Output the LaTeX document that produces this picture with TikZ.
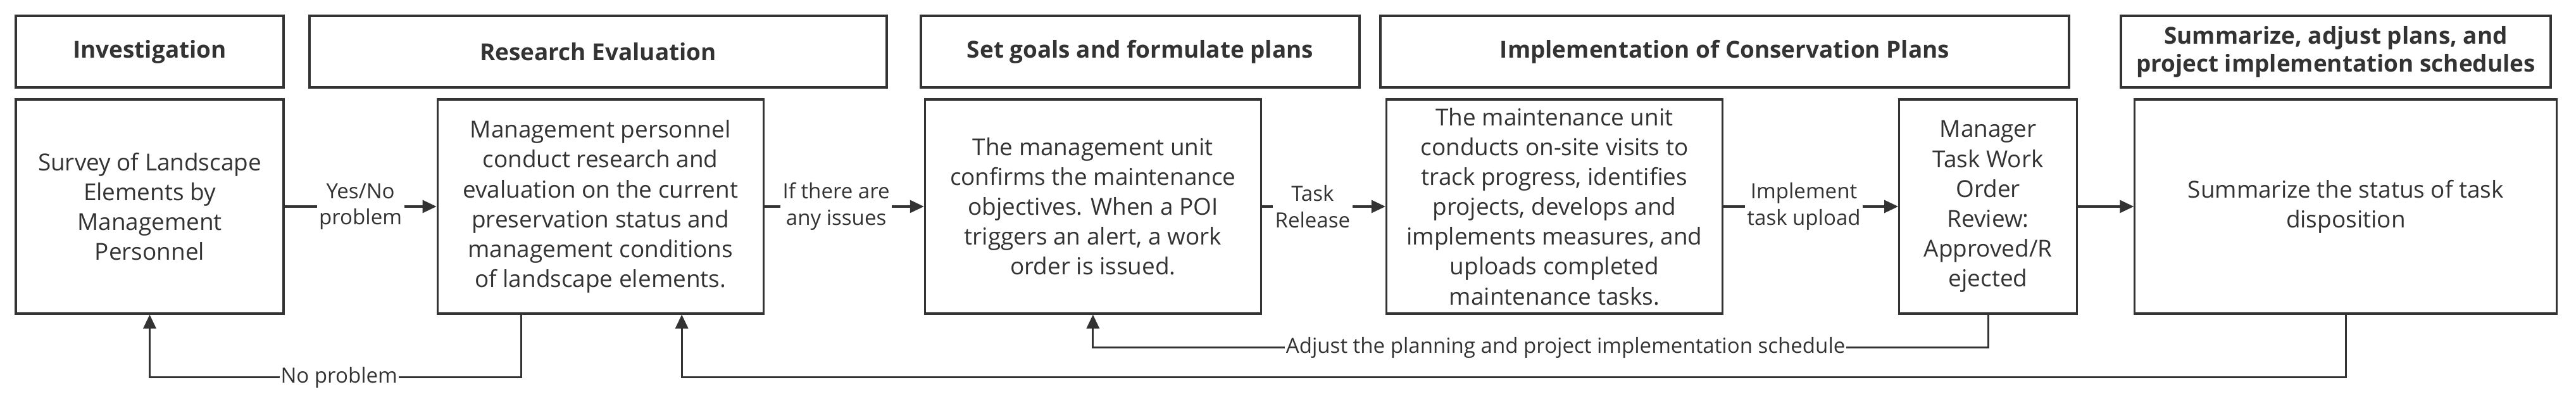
\documentclass[tikz,border=0pt]{standalone}
\usepackage{fontspec}
\setmainfont{Open Sans}
\usepackage{tikz}
\usetikzlibrary{positioning, calc, arrows.meta}
\definecolor{ink}{HTML}{333333}
\tikzset{>={Triangle[length=2.2mm,width=2mm]}}

\begin{document}
\begin{tikzpicture}
    [box/.style={draw=ink, line width=0.9pt, align=center, text=ink,
        minimum height=3.38cm, font=\fontsize{10.5}{13.4}\selectfont},
      head/.style={draw=ink, line width=0.9pt, align=center, text=ink,
        minimum height=1.13cm, font=\fontsize{10.5}{12.5}\selectfont\bfseries},
      lbl/.style={fill=white, align=center, text=ink, inner sep=1pt,
        font=\fontsize{9.4}{11.8}\selectfont},
      link/.style={draw=ink, line width=0.9pt}]

    \useasboundingbox (0,0) rectangle (40.70,-6.33);

    % stage headers
    \node[head, minimum width=4.23cm] (H1) at (2.365,-0.815) {Investigation};
    \node[head, minimum width=9.12cm] (H2) at (9.45,-0.815) {Research Evaluation};
    \node[head, minimum width=6.93cm] (H3) at (18.015,-0.815) {Set goals and formulate plans};
    \node[head, minimum width=10.88cm] (H4) at (27.25,-0.815) {Implementation of Conservation Plans};
    \node[head, minimum width=6.79cm] (H5) at (36.905,-0.815)
    {Summarize, adjust plans, and \\ project implementation schedules};

    % process boxes
    \node[box, minimum width=4.23cm] (S) at (2.365,-3.26)
    {Survey of Landscape \\ Elements by \\ Management \\ Personnel};
    \node[box, minimum width=5.15cm, right=2.4cm of S] (E)
    {Management personnel \\ conduct research and \\ evaluation on the current \\
      preservation status and \\ management conditions \\ of landscape elements.};
    \node[box, minimum width=5.31cm, right=2.52cm of E] (G)
    {The management unit \\ confirms the maintenance \\ objectives. When a POI \\
      triggers an alert, a work \\ order is issued.};
    \node[box, minimum width=5.31cm, right=1.95cm of G] (M)
    {The maintenance unit \\ conducts on-site visits to \\ track progress, identifies \\
      projects, develops and \\ implements measures, and \\ uploads completed \\
      maintenance tasks.};
    \node[box, minimum width=2.81cm, right=2.76cm of M] (R)
    {Manager \\ Task Work \\ Order \\ Review: \\ Approved/R \\ ejected};
    \node[box, minimum width=6.67cm, right=0.88cm of R] (F)
    {Summarize the status of task \\ disposition};

    % forward flow
    \draw[link, ->] (S) -- node[lbl] {Yes/No \\ problem} (E);
    \draw[link, ->] (E) -- node[lbl, pos=0.45] {If there are \\ any issues} (G);
    \draw[link, ->] (G) -- node[lbl, pos=0.41] {Task \\ Release} (M);
    \draw[link, ->] (M) -- node[lbl, pos=0.46] {Implement \\ task upload} (R);
    \draw[link, ->] (R) -- (F);

    % feedback loops
    \draw[link, ->] ([xshift=-1.255cm]E.south) -- ++(0,-0.99)
    -| node[lbl, pos=0.245, inner sep=0.5pt] {No problem} (S.south);
    \draw[link, ->] (R.south) -- ++(0,-0.52)
    -| node[lbl, pos=0.236, inner sep=0.5pt] {Adjust the planning and project implementation schedule} (G.south);
    \draw[link, ->] (F.south) -- ++(0,-0.99) -| ([xshift=1.285cm]E.south);
  \end{tikzpicture}
\end{document}
